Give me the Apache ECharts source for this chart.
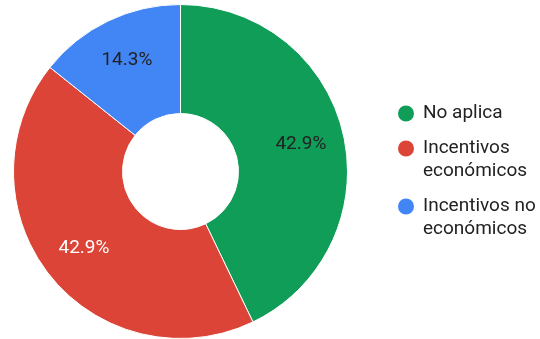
<!DOCTYPE html>
<html>
<head>
<meta charset="utf-8">
<script src="https://cdn.jsdelivr.net/npm/echarts@6/dist/echarts.min.js"></script>
<style>
html,body{margin:0;padding:0;background:#fff;}
#chart{width:540px;height:339px;}
</style>
</head>
<body>
<div id="chart"></div>
<script>
const categories = ['No aplica', 'Incentivos económicos', 'Incentivos no económicos'];
const values = [3, 3, 1];
const legendLabels = ['No aplica', '\nIncentivos\neconómicos', '\nIncentivos no\neconómicos'];

const colors = ['#0F9D58', '#DB4437', '#4285F4'];
const labelColors = ['#222222', '#ffffff', '#222222'];

const total = values.reduce(function (a, b) { return a + b; }, 0);
const chart = echarts.init(document.getElementById('chart'), null, {renderer: 'canvas'});
const center = [180.5, 171.5];

const option = {
  animation: false,
  color: colors,
  textStyle: {fontFamily: 'Roboto'},
  legend: {
    orient: 'vertical',
    left: 396,
    top: 102,
    padding: 0,
    itemGap: -11,
    itemWidth: 18,
    itemHeight: 18,
    icon: 'circle',
    selectedMode: false,
    formatter: function (name) { return legendLabels[categories.indexOf(name)]; },
    textStyle: {fontFamily: 'Roboto', fontSize: 19, color: '#222222', lineHeight: 23, padding: [0, 0, 0, 3]},
    data: categories
  },
  series: [
    {
      type: 'pie',
      center: center,
      radius: [58, 167],
      startAngle: 90,
      clockwise: true,
      label: {show: false},
      labelLine: {show: false},
      itemStyle: {borderColor: '#ffffff', borderWidth: 1},
      emphasis: {disabled: true},
      data: categories.map(function (c, i) { return {name: c, value: values[i]}; })
    },
    {
      type: 'pie',
      center: center,
      radius: [74, 167],
      startAngle: 90,
      clockwise: true,
      silent: true,
      itemStyle: {color: 'rgba(0,0,0,0)', borderWidth: 0},
      emphasis: {disabled: true},
      label: {
        show: true,
        position: 'inside',
        fontFamily: 'Roboto',
        fontSize: 19,
        formatter: function (p) { return (p.value / total * 100).toFixed(1) + '%'; }
      },
      labelLine: {show: false},
      data: categories.map(function (c, i) {
        return {name: c, value: values[i], label: {color: labelColors[i]}};
      })
    }
  ]
};
chart.setOption(option);
</script>
</body>
</html>
